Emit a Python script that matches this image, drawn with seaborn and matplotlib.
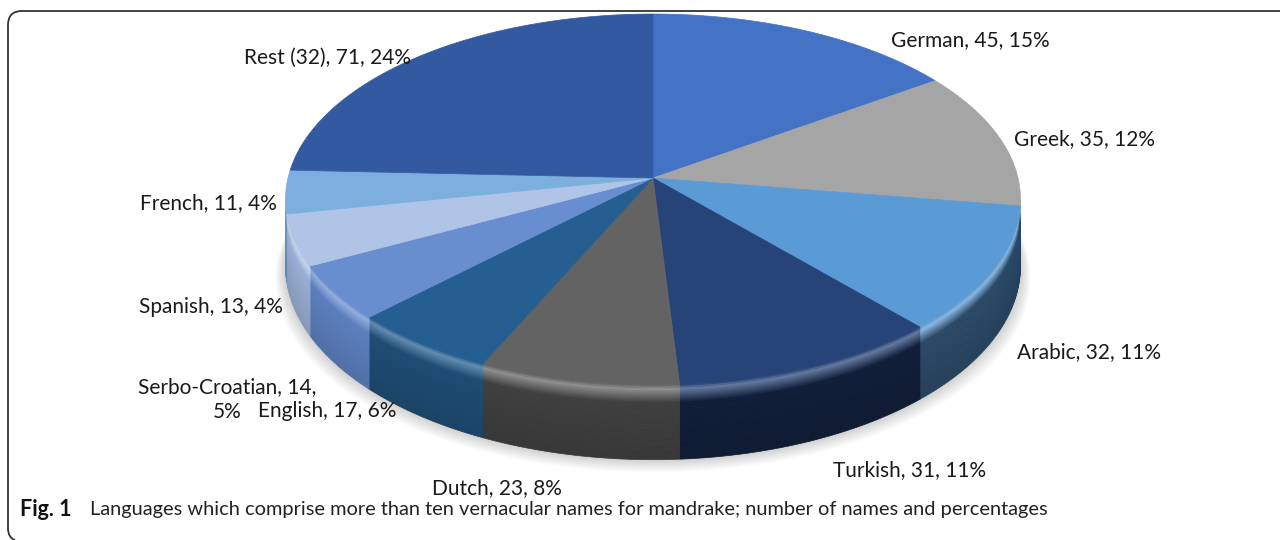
import numpy as np
import matplotlib
matplotlib.use("Agg")
import matplotlib.pyplot as plt
import matplotlib.colors as mcolors
from matplotlib.patches import Polygon, PathPatch
from matplotlib.path import Path
import seaborn as sns

# data
languages = ["German", "Greek", "Arabic", "Turkish", "Dutch", "English",
             "Serbo-Croatian", "Spanish", "French", "Rest (32)"]
counts = [45, 35, 32, 31, 23, 17, 14, 13, 11, 71]
top_colors = ["#4472C4", "#A5A5A5", "#5B9BD5", "#264478", "#636363", "#255E91",
              "#698ED0", "#AFC4E6", "#7CAFDD", "#335AA1"]
side_colors = ["#2F5597", "#7B7B7B", "#2A4866", "#0F1D38", "#3E3E3E", "#1D4B73",
               "#5A7EBE", "#98AED3", "#6A9BCB", "#2A4B87"]

# label anchors (pixel layout, centre of first text line)
label_pos = [(970, 40), (1085, 139), (1089, 352), (910, 470), (497, 488),
             (327, 411), (227, 387), (211, 307), (208, 203), (327, 58)]

sns.set_theme(style="white")
plt.rcParams["font.family"] = ["Lato", "DejaVu Sans"]

fig = plt.figure(figsize=(12.8, 5.4), dpi=100)
ax = fig.add_axes([0, 0, 1, 1])
ax.set_xlim(0, 1280)
ax.set_ylim(540, 0)
ax.axis("off")

# perspective disc
CX, CY, A, B, K, H = 653, 178, 365, 183, 0.116, 66


def proj(theta, z=0.0):
    t = np.radians(theta)
    u, v = np.sin(t), np.cos(t)
    s = 1 / (1 + K * v)
    return np.column_stack([CX + A * u * s, CY - B * v * s + H * z * s])


def mix(c1, c2, f):
    a = np.array(mcolors.to_rgb(c1))
    b = np.array(mcolors.to_rgb(c2))
    return tuple(np.clip(a * (1 - f) + b * f, 0, 1))


def wall_color(top, side, z):
    hl = mix(top, "white", 0.28)
    if z < 0.06:
        return mix(top, hl, z / 0.06)
    if z < 0.24:
        return mix(hl, side, (z - 0.06) / 0.18)
    return mix(side, mix(side, "black", 0.12), (z - 0.24) / 0.76)


total = sum(counts)
edges = np.concatenate([[0], np.cumsum(counts)]) / total * 360

# soft shadow under the pie
ring = proj(np.linspace(0, 360, 361), 1.0)
for i in range(10):
    pts = ring.copy()
    pts[:, 0] = CX + (pts[:, 0] - CX) * (1 + 0.003 * i)
    pts[:, 1] = pts[:, 1] + 1.4 * i
    ax.add_patch(Polygon(pts, closed=True, fc="#000000", ec="none", alpha=0.02, zorder=1))

# visible front wall between the two silhouette extremes
lo = np.degrees(np.arccos(-K))
hi = 360 - lo
zs = np.linspace(0, 1, 41)
for i in range(len(counts)):
    a0, a1 = max(edges[i], lo), min(edges[i + 1], hi)
    if a1 <= a0:
        continue
    th = np.linspace(a0, a1, 80)
    for z0, z1 in zip(zs[:-1], zs[1:]):
        c = wall_color(top_colors[i], side_colors[i], (z0 + z1) / 2)
        pts = np.vstack([proj(th, z0), proj(th[::-1], z1)])
        ax.add_patch(Polygon(pts, closed=True, fc=c, ec=c, lw=0.5, zorder=2))

# top faces
for i in range(len(counts)):
    th = np.linspace(edges[i], edges[i + 1], 120)
    pts = np.vstack([[CX, CY], proj(th, 0.0)])
    ax.add_patch(Polygon(pts, closed=True, fc=top_colors[i], ec=top_colors[i],
                         lw=0.5, zorder=3))

# data labels
for i, name in enumerate(languages):
    pct = round(counts[i] / total * 100)
    x, y = label_pos[i]
    if name == "Serbo-Croatian":
        # wrapped over two lines in the reference
        ax.text(x, y, f"{name}, {counts[i]},", ha="center", va="center",
                fontsize=15, color="#1a1a1a", zorder=5)
        ax.text(x, y + 25, f"{pct}%", ha="center", va="center",
                fontsize=15, color="#1a1a1a", zorder=5)
        continue
    ax.text(x, y, f"{name}, {counts[i]}, {pct}%", ha="center", va="center",
            fontsize=15, color="#1a1a1a", zorder=5)

# frame (top and left edges with rounded corners)
verts = [(1280, 11), (22, 11), (8, 11), (8, 25), (8, 528), (8, 538), (15, 540)]
codes = [Path.MOVETO, Path.LINETO, Path.CURVE3, Path.CURVE3, Path.LINETO,
         Path.CURVE3, Path.CURVE3]
ax.add_patch(PathPatch(Path(verts, codes), fc="none", ec="#333333", lw=1.3, zorder=6))

# caption
ax.text(20, 509, "Fig. 1", ha="left", va="center", fontsize=15.5, fontweight="bold",
        color="#111111")
ax.text(90, 509, "Languages which comprise more than ten vernacular names for mandrake; "
        "number of names and percentages", ha="left", va="center", fontsize=14.4,
        color="#222222")

fig.savefig("out.png", dpi=100)
